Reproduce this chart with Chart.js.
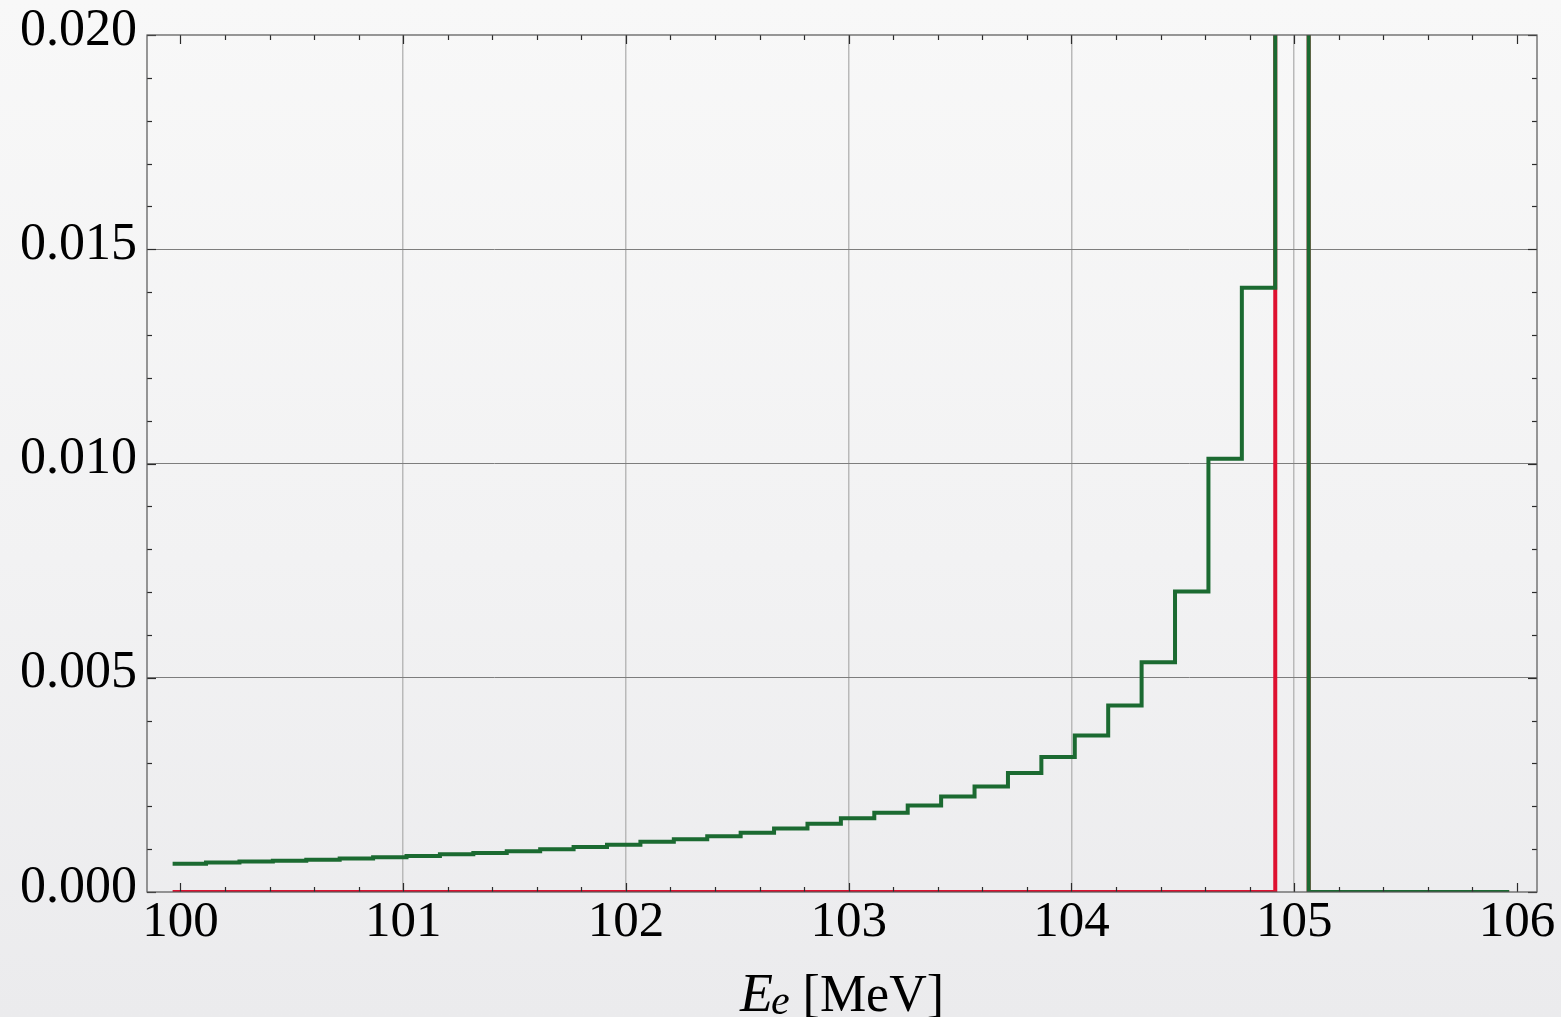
<!DOCTYPE html>
<html>
<head>
<meta charset="utf-8">
<title>Electron energy spectrum</title>
<script src="https://cdn.jsdelivr.net/npm/chart.js@4.4.0/dist/chart.umd.min.js"></script>
<style>
  html, body {
    margin: 0;
    padding: 0;
    background: linear-gradient(to bottom, #f8f8f8 0%, #f2f2f3 55%, #ebebed 100%);
  }
  #wrap {
    position: relative;
    width: 1561px;
    height: 1017px;
  }
</style>
</head>
<body>
<div id="wrap"><canvas id="spectrum"></canvas></div>
<script>
/* globals Chart:false */

// bin edges in MeV (0.15 MeV wide)
const binEdges = [
  99.965, 100.115, 100.265, 100.415, 100.565, 100.715, 100.865, 101.015, 101.165, 101.315,
  101.465, 101.615, 101.765, 101.915, 102.065, 102.215, 102.365, 102.515, 102.665, 102.815,
  102.965, 103.115, 103.265, 103.415, 103.565, 103.715, 103.865, 104.015, 104.165, 104.315,
  104.465, 104.615, 104.765, 104.915, 105.065, 105.215, 105.365, 105.515, 105.665, 105.815,
  105.965
]

// full spectrum per bin (the bin at 104.915 runs far off scale)
const totalValues = [
  0.00066, 0.00069, 0.00071, 0.00073, 0.000755, 0.00078, 0.00081, 0.00084, 0.00088, 0.00091,
  0.00095, 0.00100, 0.00105, 0.00110, 0.00117, 0.00123, 0.00130, 0.00138, 0.00148, 0.00159,
  0.00172, 0.00185, 0.00202, 0.00223, 0.00246, 0.00278, 0.00315, 0.00365, 0.00435, 0.00536,
  0.00701, 0.01011, 0.0141, 0.05, 0, 0, 0, 0, 0, 0
]

// endpoint contribution only
const peakValues = [
  0, 0, 0, 0, 0, 0, 0, 0, 0, 0,
  0, 0, 0, 0, 0, 0, 0, 0, 0, 0,
  0, 0, 0, 0, 0, 0, 0, 0, 0, 0,
  0, 0, 0, 0.05, 0, 0, 0, 0, 0, 0
]

const xTickValues = [100, 101, 102, 103, 104, 105, 106]
const yTickValues = [0, 0.005, 0.010, 0.015, 0.020]

const serif = "'Liberation Serif', 'Times New Roman', serif"

// one point on each left edge, plus the closing right edge
const toSteps = values => binEdges.map((x, i) => ({ x, y: values[Math.min(i, values.length - 1)] }))

// frame, inward tick marks on all four sides, and the x title
const framePlugin = {
  id: 'frame',
  afterDraw (chart) {
    const { ctx, chartArea: area, scales } = chart
    const xs = scales.x
    const ys = scales.y
    ctx.save()

    ctx.strokeStyle = '#2b2b2b'
    ctx.lineWidth = 1.2
    const tick = (x0, y0, x1, y1) => {
      ctx.beginPath()
      ctx.moveTo(x0, y0)
      ctx.lineTo(x1, y1)
      ctx.stroke()
    }

    for (let v = 100; v <= 106.001; v += 0.2) {
      const major = Math.abs(v - Math.round(v)) < 1e-6
      const len = major ? 9 : 5
      const px = Math.round(xs.getPixelForValue(v)) + 0.5
      tick(px, area.bottom, px, area.bottom - len)
      tick(px, area.top, px, area.top + len)
    }
    for (let i = 0; i <= 20; i++) {
      const v = i * 0.001
      const len = i % 5 === 0 ? 9 : 5
      const py = Math.round(ys.getPixelForValue(v)) + 0.5
      tick(area.left, py, area.left + len, py)
      tick(area.right, py, area.right - len, py)
    }

    ctx.strokeStyle = '#555555'
    ctx.lineWidth = 1.2
    ctx.strokeRect(area.left, area.top, area.right - area.left, area.bottom - area.top)

    // E_e [MeV]
    const main = `italic 54px ${serif}`
    const sub = `italic 42px ${serif}`
    const rest = `52px ${serif}`
    ctx.fillStyle = '#000'
    ctx.textBaseline = 'alphabetic'
    ctx.font = main
    const wE = ctx.measureText('E').width
    ctx.font = sub
    const we = ctx.measureText('e').width
    ctx.font = rest
    const wr = ctx.measureText(' [MeV]').width
    const total = wE + we + wr - 2
    let x = (area.left + area.right) / 2 - total / 2
    const base = 1011
    ctx.textAlign = 'left'
    ctx.font = main
    ctx.fillText('E', x, base)
    x += wE
    ctx.font = sub
    ctx.fillText('e', x - 2, base + 3)
    x += we - 2
    ctx.font = rest
    ctx.fillText(' [MeV]', x, base)

    ctx.restore()
  }
}

const spectrumChart = new Chart(document.getElementById('spectrum'), {
  type: 'line',
  data: {
    datasets: [
      {
        label: 'total',
        data: toSteps(totalValues),
        borderColor: '#1b6a31',
        borderWidth: 4,
        stepped: 'before',
        pointRadius: 0,
        fill: false
      },
      {
        label: 'endpoint',
        data: toSteps(peakValues),
        borderColor: '#de1130',
        borderWidth: 4,
        stepped: 'before',
        pointRadius: 0,
        fill: false
      }
    ]
  },
  options: {
    responsive: true,
    maintainAspectRatio: false,
    animation: false,
    layout: {
      padding: { top: 35, right: 24, left: 0, bottom: 0 }
    },
    plugins: {
      legend: { display: false },
      tooltip: { enabled: false }
    },
    scales: {
      x: {
        type: 'linear',
        min: 99.85,
        max: 106.09,
        afterBuildTicks: axis => {
          axis.ticks = xTickValues.map(value => ({ value }))
        },
        afterFit: axis => {
          axis.height = 125
          axis.paddingLeft = 0
          axis.paddingRight = 0
        },
        ticks: {
          autoSkip: false,
          maxRotation: 0,
          padding: 0,
          color: '#000',
          font: { family: serif, size: 51 },
          callback: value => String(value)
        },
        grid: {
          drawTicks: false,
          lineWidth: 1.5,
          color: ctx => (ctx.tick && ctx.tick.value > 100 && ctx.tick.value < 106 ? '#b9b9b9' : 'rgba(0,0,0,0)')
        },
        border: { display: false }
      },
      y: {
        min: 0,
        max: 0.02,
        afterBuildTicks: axis => {
          axis.ticks = yTickValues.map(value => ({ value }))
        },
        afterFit: axis => {
          axis.width = 147
          axis.paddingTop = 0
          axis.paddingBottom = 0
        },
        ticks: {
          padding: 10,
          labelOffset: -4,
          color: '#000',
          font: { family: serif, size: 52 },
          callback: value => value.toFixed(3)
        },
        grid: {
          drawTicks: false,
          lineWidth: 1,
          color: ctx => (ctx.tick && ctx.tick.value > 0 && ctx.tick.value < 0.02 ? '#7d7d7d' : 'rgba(0,0,0,0)')
        },
        border: { display: false }
      }
    }
  },
  plugins: [framePlugin]
})
</script>
</body>
</html>
